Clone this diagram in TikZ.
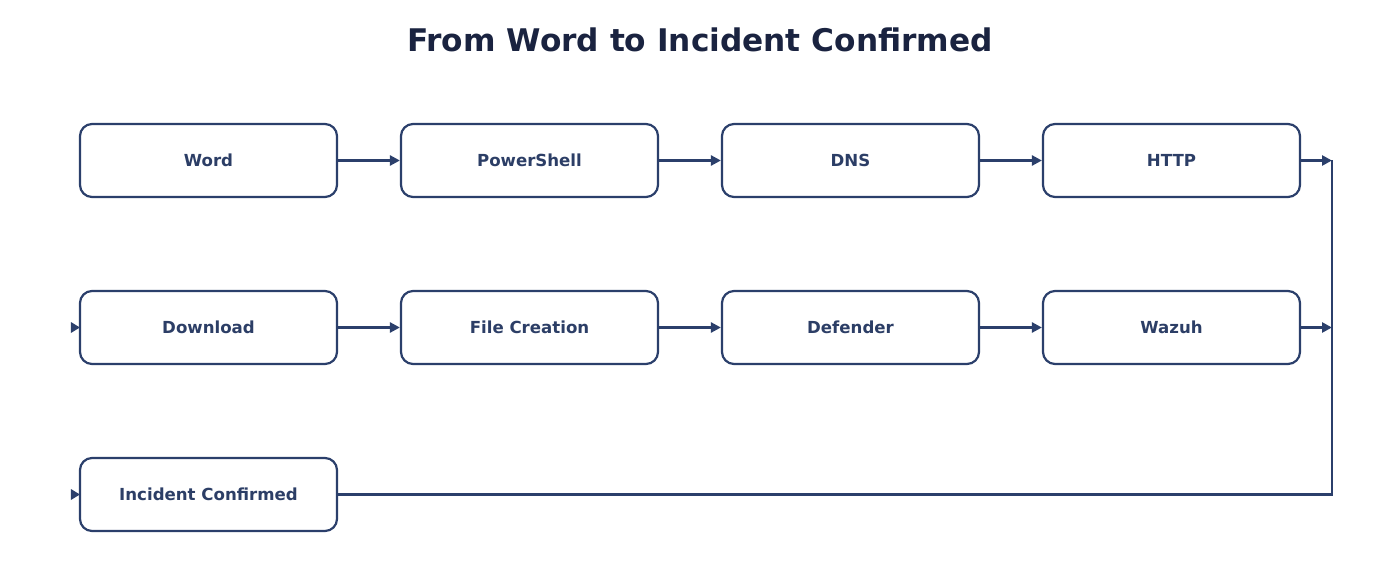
\documentclass[tikz,border=0pt]{standalone}
\usepackage{fontspec}
\setmainfont{DejaVu Sans}
\usetikzlibrary{arrows.meta}
\definecolor{edge}{HTML}{2B3F6B}
\definecolor{txt}{HTML}{2C3E66}
\definecolor{ttl}{HTML}{1A2340}
\begin{document}
\begin{tikzpicture}[x=1pt,y=-1pt,
  stepbox/.style={draw=edge,line width=2.2pt,rounded corners=12pt,fill=white,
    minimum width=257pt,minimum height=73pt,inner sep=0pt,
    font=\fontsize{16.6}{20}\selectfont\bfseries,text=txt},
  conn/.style={draw=edge,line width=2.5pt,-{Triangle[length=10pt,width=10pt]}},
  plain/.style={draw=edge,line width=2.5pt}]
\useasboundingbox (0,0) rectangle (1400,588);
\node[font=\fontsize{31.2}{36}\selectfont\bfseries,text=ttl] (title) at (700,40) {From Word to Incident Confirmed};
\node[stepbox] (word) at (208.5,160.5) {Word};
\node[stepbox] (ps) at (529.5,160.5) {PowerShell};
\node[stepbox] (dns) at (850.5,160.5) {DNS};
\node[stepbox] (http) at (1171.5,160.5) {HTTP};
\node[stepbox] (dl) at (208.5,327.5) {Download};
\node[stepbox] (fc) at (529.5,327.5) {File Creation};
\node[stepbox] (def) at (850.5,327.5) {Defender};
\node[stepbox] (waz) at (1171.5,327.5) {Wazuh};
\node[stepbox] (ic) at (208.5,494.5) {Incident Confirmed};
\coordinate (r1) at (1332,160.5);
\coordinate (r2) at (1332,327.5);
\coordinate (r3) at (1332,494.5);
\draw[conn] (word) -- (ps);
\draw[conn] (ps) -- (dns);
\draw[conn] (dns) -- (http);
\draw[conn] (http) -- (r1);
\draw[conn] (dl) -- (fc);
\draw[conn] (fc) -- (def);
\draw[conn] (def) -- (waz);
\draw[conn] (waz) -- (r2);
\draw[plain] (r1) -- (r3) -- (ic.east);
\fill[edge] ([xshift=1pt]dl.west) -- ++(-9,-5.5) -- ++(0,11) -- cycle;
\fill[edge] ([xshift=1pt]ic.west) -- ++(-9,-5.5) -- ++(0,11) -- cycle;
\end{tikzpicture}
\end{document}
